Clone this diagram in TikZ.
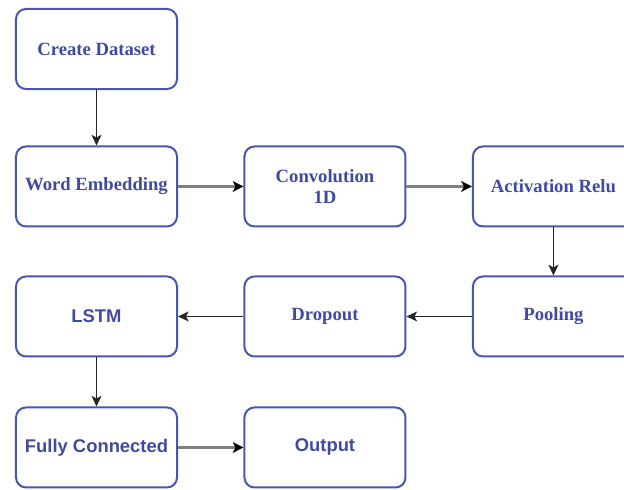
\documentclass[tikz,border=0pt]{standalone}
\usepackage{fontspec}
\setmainfont{Liberation Serif}
\setsansfont{Liberation Sans}
\usetikzlibrary{arrows.meta,positioning}
\definecolor{boxblue}{RGB}{72,86,176}
\definecolor{textblue}{RGB}{64,74,160}
\tikzset{%
    >={Stealth[width=7.5pt,length=8pt,inset=2pt]},
    base/.style = {
        rectangle, rounded corners=7.5pt, draw=boxblue, line width=1.5pt,
        minimum width=120.75pt, minimum height=60pt, text centered,
        text=textblue, font=\fontsize{14}{15.5}\selectfont\bfseries
    },
    layer/.style = {base, font=\fontsize{14}{15.5}\selectfont\bfseries\rmfamily},
    sflayer/.style = {base, font=\fontsize{13.8}{15.5}\selectfont\bfseries\sffamily},
    thinline/.style = {->, draw=black!85, line width=0.8pt},
    thickline/.style = {
        -{Stealth[width=8pt,length=8pt,inset=2pt,color=black]},
        draw=black!50, line width=1.8pt
    },
}
\begin{document}
\begin{tikzpicture}[
        node distance=36pt and 49.1pt,
        align=center
    ]
        \useasboundingbox (-72.375pt,36.75pt) rectangle (395.625pt,-330pt);
        \clip (-72.375pt,36.75pt) rectangle (395.625pt,-330pt);
        % Nodes position
        \node (create)     [layer] {Create Dataset};
        \node (embedding)  [layer, below=41.6pt of create] {Word Embedding};
        \node (conv)       [layer, right=of embedding] {Convolution\\1D};
        \node (activation) [layer, right=of conv] {Activation Relu};
        \node (pooling)    [layer, below=of activation] {Pooling};
        \node (dropout)    [layer, left=of pooling] {Dropout};
        \node (lstm)       [sflayer, left=of dropout] {LSTM};
        \node (dense)      [sflayer, below=36.75pt of lstm] {Fully Connected};
        \node (output)     [sflayer, right=of dense] {Output};
        % Arrow specification
        \draw[thinline]  (create) -- (embedding);
        \draw[thickline] (embedding) -- (conv);
        \draw[thickline] (conv) -- (activation);
        \draw[thinline]  (activation) -- (pooling);
        \draw[thinline]  (pooling) -- (dropout);
        \draw[thinline]  (dropout) -- (lstm);
        \draw[thinline]  (lstm) -- (dense);
        \draw[thickline] (dense) -- (output);
    \end{tikzpicture}
\end{document}
